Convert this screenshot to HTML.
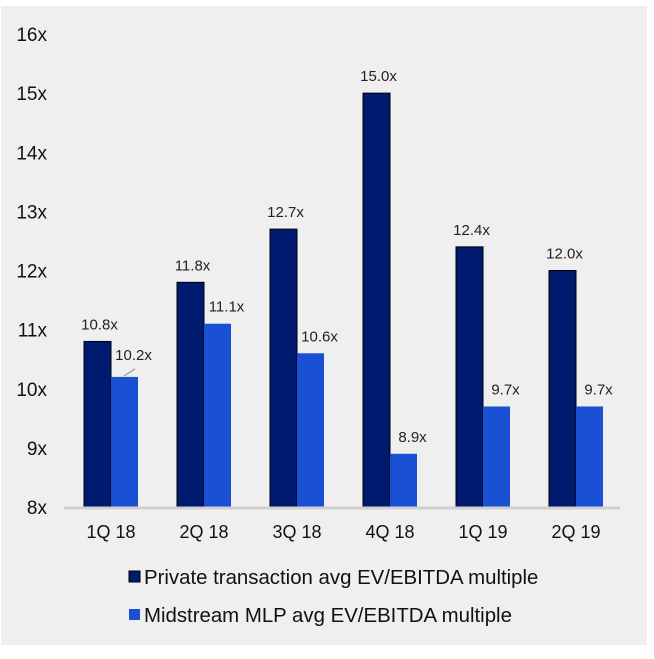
<!DOCTYPE html>
<html><head><meta charset="utf-8"><style>
body{margin:0;background:#fff;width:654px;height:659px;overflow:hidden}
svg{display:block;font-family:"Liberation Sans",Arial,sans-serif}
</style></head><body>
<svg width="654" height="659">
<rect x="1" y="6" width="646" height="639" fill="#efefef"/>
<g id="g"></g>
</svg>
<script>
const categories=["1Q 18","2Q 18","3Q 18","4Q 18","1Q 19","2Q 19"];
const privateVals=[10.8,11.8,12.7,15.0,12.4,12.0];
const midstreamVals=[10.2,11.1,10.6,8.9,9.7,9.7];
const yTicks=[8,9,10,11,12,13,14,15,16];
const NS="http://www.w3.org/2000/svg";
const g=document.getElementById('g');
const y=v=>507-(v-8)*59.125;
const cx=i=>111+i*93;
const BW=27;
function mk(t,a,txt){const e=document.createElementNS(NS,t);for(const k in a)e.setAttribute(k,a[k]);if(txt!==undefined)e.textContent=txt;g.appendChild(e);return e;}
yTicks.forEach(v=>{
 const e=mk('text',{x:47,y:y(v)+7,'text-anchor':'end','font-size':19,fill:'#111'},v+'x');
 
 
});
categories.forEach((c,i)=>{
 const p=privateVals[i],m=midstreamVals[i];
 const b1=mk('rect',{x:cx(i)-BW,y:y(p),width:BW,height:y(8)-y(p),fill:'#001a70',stroke:'#000','stroke-width':1});
 
 
 const b2=mk('rect',{x:cx(i),y:y(m),width:BW,height:y(8)-y(m),fill:'#1a50d4'});
 
 
 const l1=mk('text',{x:cx(i)-BW/2+2,y:y(p)-12,'text-anchor':'middle','font-size':15,fill:'#222'},p.toFixed(1)+'x');
 
 
 let ly=y(m)-12;
 if(i===0){ly=y(m)-17;mk('line',{x1:cx(i)+13,y1:y(m)-1,x2:cx(i)+24,y2:y(m)-8,stroke:'#aaa','stroke-width':1.5});}
 const l2=mk('text',{x:cx(i)+BW/2+9,y:ly,'text-anchor':'middle','font-size':15,fill:'#222'},m.toFixed(1)+'x');
 
 
 const xl=mk('text',{x:cx(i),y:538,'text-anchor':'middle','font-size':18,fill:'#111'},c);
 
 
});
const ax=mk('line',{x1:64,y1:508,x2:620,y2:508,stroke:'#d0d0d0','stroke-width':3});


const s1=mk('rect',{x:129,y:571,width:11,height:11,fill:'#001a70',stroke:'#000','stroke-width':1});


const t1=mk('text',{x:144,y:584,'font-size':20.4,fill:'#111'},'Private transaction avg EV/EBITDA multiple');


const s2=mk('rect',{x:129,y:609,width:11,height:11,fill:'#1a50d4'});


const t2=mk('text',{x:144,y:622,'font-size':20.4,fill:'#111'},'Midstream MLP avg EV/EBITDA multiple');


</script>
</body></html>
